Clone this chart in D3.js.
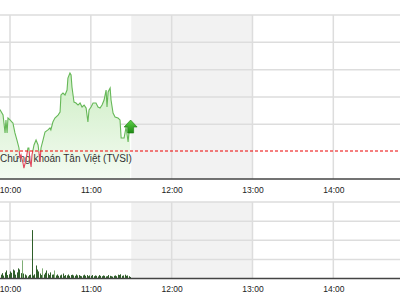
<!DOCTYPE html>
<html>
<head>
<meta charset="utf-8">
<script src="https://cdn.jsdelivr.net/npm/d3@7"></script>
<style>
  body { margin: 0; background: #fff; }
  svg { display: block; font-family: "Liberation Sans", Arial, sans-serif; }
</style>
</head>
<body>
<div id="chart"></div>
<script>
// intraday price, morning session
const priceTimes = [
  "09:50:00", "09:52:40", "09:54:50", "09:56:20", "09:57:00", "09:57:50", "09:58:30",
  "10:00:00", "10:01:30", "10:02:10", "10:03:40", "10:05:10", "10:06:40", "10:07:20",
  "10:08:10", "10:09:40", "10:10:20", "10:11:50", "10:13:20", "10:14:00", "10:14:50",
  "10:15:40", "10:16:20", "10:17:50", "10:19:20", "10:20:50", "10:22:20", "10:23:00",
  "10:24:30", "10:26:00", "10:28:10", "10:29:40", "10:30:20", "10:31:50", "10:33:20",
  "10:35:40", "10:37:10", "10:37:50", "10:39:20", "10:40:50", "10:42:20", "10:43:00",
  "10:44:30", "10:45:20", "10:46:00", "10:47:30", "10:49:00", "10:50:30", "10:52:00",
  "10:53:30", "10:55:00", "10:56:30", "10:57:50", "10:58:40", "11:00:10", "11:01:40",
  "11:03:50", "11:05:20", "11:06:50", "11:08:20", "11:09:50", "11:11:20", "11:12:00",
  "11:12:50", "11:14:20", "11:15:00", "11:16:30", "11:18:00", "11:20:10", "11:21:40",
  "11:22:30", "11:24:40", "11:26:10", "11:27:40", "11:28:20", "11:29:10",
];
const priceValues = [
  503.0, 503.05, 502.68, 501.37, 502.32, 501.37, 502.46,
  502.32, 502.17, 502.1, 501.37, 500.85, 500.27, 499.54,
  499.76, 499.17, 498.8, 499.39, 500.27, 500.27, 499.39,
  498.88, 499.76, 500.49, 500.85, 500.49, 499.24, 500.27,
  500.85, 501.44, 501.59, 501.73, 501.59, 502.17, 502.46,
  502.68, 502.9, 504.15, 504.29, 504.15, 504.51, 505.39,
  505.76, 505.61, 504.73, 503.63, 503.56, 503.41, 503.56,
  503.27, 503.41, 503.19, 502.17, 503.05, 503.27, 503.56,
  503.56, 503.27, 503.19, 503.41, 503.78, 504.51, 503.27,
  504.37, 504.66, 503.78, 502.83, 502.54, 502.46, 502.32,
  501.0, 501.0, 501.8, 500.71, 501.44, 501.95,
];
const refPrice = 500.05;
const priceGrid = [502, 504, 506, 508, 510];

// volume per minute, starting 09:52
const volStart = "09:52:00";
const volumes = [
  26, 20, 28, 15, 32, 42, 18, 22,
  37, 30, 47, 42, 20, 32, 53, 47, 28, 95,
  26, 21, 16, 11, 18, 20, 253, 16, 22, 68,
  47, 37, 26, 18, 53, 21, 30, 42, 26, 18,
  32, 20, 21, 42, 16, 21, 14, 16, 20, 26,
  14, 18, 16, 21, 14, 18, 20, 16, 14, 21,
  16, 18, 14, 12, 16, 20, 14, 18, 12, 16,
  14, 18, 12, 16, 14, 11, 18, 14, 12, 16,
  14, 11, 12, 18, 14, 12, 10, 14, 16, 12,
  20, 18, 22, 14, 16, 20, 14, 16, 12, 8,
];
const lightBars = ["10:09:00", "10:24:00", "10:33:00"];
const volGrid = [100, 200, 300, 400];

const hourTicks = ["10:00:00", "11:00:00", "12:00:00", "13:00:00", "14:00:00"];
const lunchBreak = ["11:30:00", "13:00:00"];
const watermark = "Chứng khoán Tân Việt (TVSI)";

const W = 400, H = 300;
const parse = d3.timeParse("%H:%M:%S");

const x = d3.scaleTime()
  .domain([parse("09:00:00"), parse("15:00:00")])
  .range([-70.83, 414.15]);
const y = d3.scaleLinear().domain([498, 510]).range([179, 15]);
const yv = d3.scaleLinear().domain([0, 400]).range([278.5, 202]);

const pricePane = { y0: 15, y1: 179 };
const volPane = { y0: 202, y1: 278.5 };

const prices = priceTimes.map((t, i) => ({ t: parse(t), v: priceValues[i] }));
const t0 = parse(volStart);
const bars = volumes.map((v, i) => ({ t: d3.timeMinute.offset(t0, i), v }));
const lightSet = new Set(lightBars.map((s) => +parse(s)));

const svg = d3.select("#chart").append("svg").attr("width", W).attr("height", H);

const defs = svg.append("defs");
const grad = defs.append("linearGradient")
  .attr("id", "areaFill")
  .attr("gradientUnits", "userSpaceOnUse")
  .attr("x1", 0).attr("x2", 0).attr("y1", 60).attr("y2", pricePane.y1);
grad.append("stop").attr("offset", 0).attr("stop-color", "#c8ecbe");
grad.append("stop").attr("offset", 1).attr("stop-color", "#f4fbf2");

const arrowGrad = defs.append("linearGradient")
  .attr("id", "arrowFill").attr("x1", 0).attr("x2", 0).attr("y1", 0).attr("y2", 1);
arrowGrad.append("stop").attr("offset", 0).attr("stop-color", "#5fd24a");
arrowGrad.append("stop").attr("offset", 1).attr("stop-color", "#1f8a14");

const yRef = y(refPrice);
defs.append("clipPath").attr("id", "clipUp")
  .append("rect").attr("x", 0).attr("y", 0).attr("width", W).attr("height", yRef);
defs.append("clipPath").attr("id", "clipDown")
  .append("rect").attr("x", 0).attr("y", yRef).attr("width", W).attr("height", pricePane.y1 - yRef);

// lunch break shading
[pricePane, volPane].forEach((p) => {
  svg.append("rect")
    .attr("x", x(parse(lunchBreak[0])))
    .attr("y", p.y0)
    .attr("width", x(parse(lunchBreak[1])) - x(parse(lunchBreak[0])))
    .attr("height", p.y1 - p.y0)
    .attr("fill", "#f2f2f2");
});

const gridColor = "#dddddd";
const ticks = hourTicks.map(parse);

// vertical grid
[pricePane, volPane].forEach((p) => {
  svg.append("g")
    .selectAll("line")
    .data(ticks)
    .join("line")
    .attr("x1", (d) => x(d)).attr("x2", (d) => x(d))
    .attr("y1", p.y0).attr("y2", p.y1)
    .attr("stroke", gridColor).attr("stroke-width", 1.5);
});

// horizontal grid
svg.append("g")
  .selectAll("line")
  .data(priceGrid)
  .join("line")
  .attr("x1", 0).attr("x2", W)
  .attr("y1", (d) => y(d)).attr("y2", (d) => y(d))
  .attr("stroke", gridColor).attr("stroke-width", 1.5);

svg.append("g")
  .selectAll("line")
  .data(volGrid)
  .join("line")
  .attr("x1", 0).attr("x2", W)
  .attr("y1", (d) => yv(d)).attr("y2", (d) => yv(d))
  .attr("stroke", gridColor).attr("stroke-width", 1.5);

// price area + line
const area = d3.area()
  .x((d) => x(d.t))
  .y0(pricePane.y1)
  .y1((d) => y(d.v));
svg.append("path").datum(prices).attr("d", area).attr("fill", "url(#areaFill)");

svg.append("text")
  .attr("x", 0).attr("y", 162)
  .attr("font-size", 10)
  .attr("fill", "#333")
  .text(watermark);

const line = d3.line().x((d) => x(d.t)).y((d) => y(d.v));
svg.append("path").datum(prices).attr("d", line)
  .attr("fill", "none").attr("stroke", "#66b858").attr("stroke-width", 1.1)
  .attr("clip-path", "url(#clipUp)");
svg.append("path").datum(prices).attr("d", line)
  .attr("fill", "none").attr("stroke", "#e0485e").attr("stroke-width", 1.1)
  .attr("clip-path", "url(#clipDown)");

// reference line
svg.append("line")
  .attr("x1", 0).attr("x2", W)
  .attr("y1", yRef).attr("y2", yRef)
  .attr("stroke", "#ee0000").attr("stroke-width", 1.2)
  .attr("stroke-dasharray", "3,2");

// last-price arrow
const last = prices[prices.length - 1];
const ax = x(last.t) + 0.5, ay = y(last.v) - 5;
svg.append("path")
  .attr("d", `M${ax - 6.5},${ay + 7} L${ax},${ay} L${ax + 6.5},${ay + 7} L${ax + 3},${ay + 7} L${ax + 3},${ay + 13} L${ax - 3},${ay + 13} L${ax - 3},${ay + 7} Z`)
  .attr("fill", "url(#arrowFill)")
  .attr("stroke", "#1d7a12").attr("stroke-width", 0.6);

// volume bars
svg.append("g")
  .selectAll("rect")
  .data(bars)
  .join("rect")
  .attr("x", (d) => Math.round(x(d.t)))
  .attr("y", (d) => yv(d.v))
  .attr("width", 1)
  .attr("height", (d) => yv(0) - yv(d.v))
  .attr("fill", (d) => (lightSet.has(+d.t) ? "#7fae76" : "#2f5f2a"));

// axis baselines
[pricePane.y1, volPane.y1].forEach((yy) => {
  svg.append("line")
    .attr("x1", 0).attr("x2", W)
    .attr("y1", yy).attr("y2", yy)
    .attr("stroke", "#444").attr("stroke-width", 1.5);
});

// time labels
const fmt = d3.timeFormat("%H:%M");
[193, 292].forEach((ty) => {
  const axis = d3.axisBottom(x).tickValues(ticks).tickSize(0).tickFormat(fmt);
  const g = svg.append("g").attr("transform", `translate(0,${ty - 9})`).call(axis);
  g.select(".domain").remove();
  g.selectAll("text")
    .attr("font-family", "'Liberation Sans', Arial, sans-serif")
    .attr("font-size", 8.5)
    .attr("fill", "#222")
    .attr("dy", 0).attr("y", 9);
});
</script>
</body>
</html>
